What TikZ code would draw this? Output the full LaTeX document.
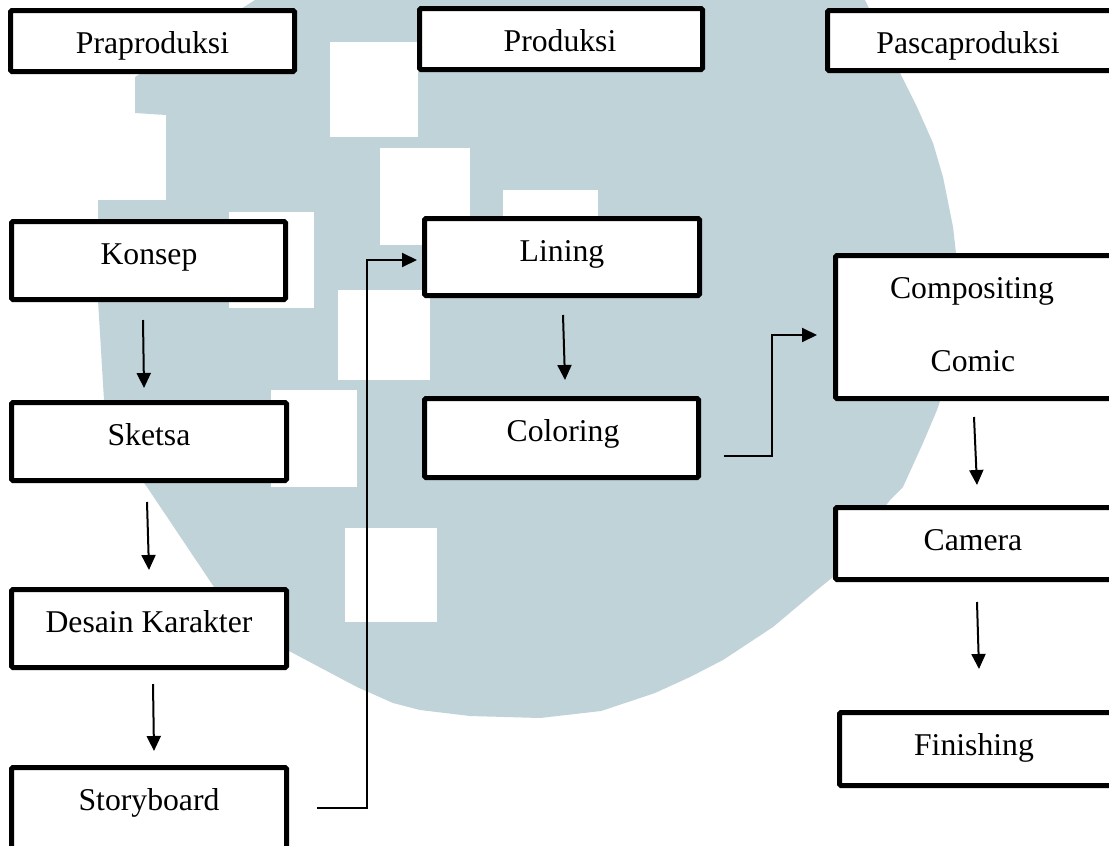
\documentclass[tikz,border=0pt]{standalone}
\usepackage{fontspec}
\setmainfont{Liberation Serif}
\usetikzlibrary{arrows.meta}
\definecolor{wm}{RGB}{192,211,217}
\begin{document}
\begin{tikzpicture}[x=1pt,y=-1pt,
  box/.style={draw=black, line width=5pt, rounded corners=1.5pt, fill=white, inner sep=0pt},
  lbl/.style={font=\fontsize{31.7}{38}\selectfont, inner sep=0pt, anchor=base},
  conn/.style={line width=2pt},
  arr/.style={conn, -{Triangle[length=15pt,width=14pt]}}]
\useasboundingbox (0,0) rectangle (1109,846);
\clip (0,0) rectangle (1109,846);
\fill[white] (0,0) rectangle (1109,846);
% watermark
\fill[wm] (255,0) -- (865,0) -- (900,73) -- (917,107) -- (933,143) -- (943,177) -- (953,227)
  -- (957,262) -- (955,330) -- (947,380) -- (937,410) -- (923,443) -- (903,487) -- (890,500)
  -- (860,540) -- (833,577) -- (817,590) -- (773,627) -- (723,660) -- (690,677) -- (655,693)
  -- (601,711) -- (540,718) -- (470,716) -- (420,710) -- (393,703) -- (357,687) -- (289,651)
  -- (214,587) -- (147,487) -- (120,450) -- (104,400) -- (98,300) -- (98,200) -- (166,200)
  -- (166,115) -- (135,113) -- (135,77) -- cycle;
\fill[white] (330,42) rectangle (418,137);
\fill[white] (380,148) rectangle (470,245);
\fill[white] (503,190) rectangle (598,218);
\fill[white] (338,290) rectangle (430,380);
\fill[white] (229,212) rectangle (314,308);
\fill[white] (271,390) rectangle (357,487);
\fill[white] (345,528) rectangle (437,622);
% boxes
\node[box, minimum width=284pt, minimum height=61pt] (prap) at (152.5,41) {};
\node[box, minimum width=283pt, minimum height=61pt] (prod) at (561,39) {};
\node[box, minimum width=285pt, minimum height=60pt] (pasc) at (970,40.5) {};
\node[box, minimum width=274pt, minimum height=78pt] (konsep) at (148.5,260.5) {};
\node[box, minimum width=275pt, minimum height=78pt] (sketsa) at (149,441.5) {};
\node[box, minimum width=275pt, minimum height=78pt] (desain) at (149,628.5) {};
\node[box, minimum width=275pt, minimum height=90pt] (story) at (149,812.5) {};
\node[box, minimum width=275pt, minimum height=77pt] (lining) at (562,257) {};
\node[box, minimum width=274pt, minimum height=79pt] (coloring) at (561.5,438) {};
\node[box, minimum width=277pt, minimum height=143pt] (comp) at (974,327) {};
\node[box, minimum width=277pt, minimum height=72pt] (camera) at (974,543.5) {};
\node[box, minimum width=273pt, minimum height=73pt] (finish) at (976,749) {};
% labels
\node[lbl] (t-prap) at (152.5,53) {Praproduksi};
\node[lbl] (t-prod) at (560,51) {Produksi};
\node[lbl] (t-pasc) at (968,53) {Pascaproduksi};
\node[lbl] (t-konsep) at (149,264) {Konsep};
\node[lbl] (t-sketsa) at (149,445) {Sketsa};
\node[lbl] (t-desain) at (149,632) {Desain Karakter};
\node[lbl] (t-story) at (149,810) {Storyboard};
\node[lbl] (t-lining) at (562,261) {Lining};
\node[lbl] (t-coloring) at (563,441) {Coloring};
\node[lbl] (t-comp1) at (972,298) {Compositing};
\node[lbl] (t-comp2) at (973,371) {Comic};
\node[lbl] (t-camera) at (973,550) {Camera};
\node[lbl] (t-finish) at (974,755) {Finishing};
% connectors
\draw[arr] ([xshift=-5.5pt,yshift=-18pt]konsep.south) -- ([xshift=-5pt,yshift=12pt]sketsa.north);
\draw[arr] ([xshift=-2pt,yshift=-19pt]sketsa.south) -- ([yshift=17pt]desain.north);
\draw[arr] ([xshift=4pt,yshift=-14pt]desain.south) -- ([xshift=5pt,yshift=14pt]story.north);
\draw[arr] ([xshift=1pt,yshift=-17pt]lining.south) -- ([xshift=3.5pt,yshift=16pt]coloring.north);
\draw[arr] ([yshift=-16pt]comp.south) -- ([xshift=3pt,yshift=20pt]camera.north);
\draw[arr] ([xshift=3pt,yshift=-20pt]camera.south) -- ([xshift=3pt,yshift=41pt]finish.north);
\draw[arr] ([xshift=28pt,yshift=4.5pt]story.east) -- ++(50,0) |- ([xshift=-5pt,yshift=-3pt]lining.west);
\draw[arr] ([xshift=23pt,yshift=-18pt]coloring.east) -- ++(48,0) |- ([xshift=-16pt,yshift=-8pt]comp.west);
\end{tikzpicture}
\end{document}
